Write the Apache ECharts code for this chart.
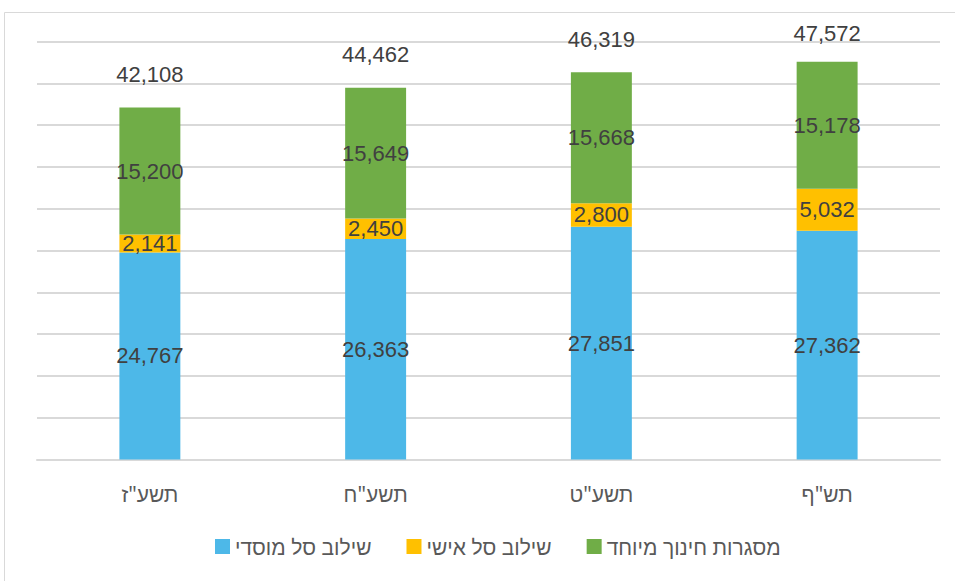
<!DOCTYPE html>
<html><head><meta charset="utf-8">
<script src="https://cdn.jsdelivr.net/npm/echarts@6/dist/echarts.min.js"></script>
<style>html,body{margin:0;padding:0;background:#fff}#c{width:955px;height:581px}</style>
</head><body><div id="c"></div>
<script>
const categories = ['תשע"ז', 'תשע"ח', 'תשע"ט', 'תש"ף'];
const seriesNames = ['שילוב סל מוסדי', 'שילוב סל אישי', 'מסגרות חינוך מיוחד'];
const institutional = [24767, 26363, 27851, 27362];
const personal = [2141, 2450, 2800, 5032];
const specialEd = [15200, 15649, 15668, 15178];
const totals = [42108, 44462, 46319, 47572];
const colors = ['#4db8e8', '#ffc000', '#70ad47'];
const numFont = '"Liberation Sans", Arial, sans-serif';
const fmt = v => Number(v).toLocaleString('en-US');
const chart = echarts.init(document.getElementById('c'), null, { renderer: 'svg' });
const valueSeries = [institutional, personal, specialEd].map((d, i) => ({
  name: seriesNames[i], type: 'bar', stack: 'a', data: d, barWidth: '27%',
  itemStyle: { color: colors[i] },
  label: { show: true, position: 'inside', formatter: p => fmt(p.value),
    color: '#404040', fontSize: 22, fontFamily: numFont }
}));
valueSeries.push({
  name: 'total', type: 'bar', stack: 'a',
  data: totals.map((t, i) => ({ value: 0, label: { distance: i === 3 ? 17 : 22 } })),
  barWidth: '27%', itemStyle: { color: 'transparent' }, silent: true,
  label: { show: true, position: 'top', formatter: p => fmt(totals[p.dataIndex]),
    color: '#404040', fontSize: 22, fontFamily: numFont }
});
chart.setOption({
  animation: false,
  graphic: [{ type: 'rect', shape: { x: 4.5, y: 12.5, width: 960, height: 600 },
    style: { fill: 'none', stroke: '#d9d9d9', lineWidth: 1 }, silent: true }],
  grid: { left: 37, right: 15, top: 41.5, bottom: 121.5 },
  legend: { data: seriesNames, bottom: 19, left: 210, itemWidth: 15, itemHeight: 15,
    itemGap: 35, icon: 'rect',
    textStyle: { fontSize: 21, color: '#595959', fontFamily: '"Noto Sans", sans-serif' } },
  xAxis: { type: 'category', data: categories,
    axisLine: { lineStyle: { color: '#d9d9d9', width: 2 } }, axisTick: { show: false },
    axisLabel: { fontSize: 21, color: '#595959', margin: 24, fontFamily: '"Noto Sans", sans-serif' } },
  yAxis: { type: 'value', min: 0, max: 50000, interval: 5000, axisLabel: { show: false },
    axisLine: { show: false }, axisTick: { show: false },
    splitLine: { lineStyle: { color: '#d9d9d9', width: 2 } } },
  series: valueSeries
});
</script></body></html>
